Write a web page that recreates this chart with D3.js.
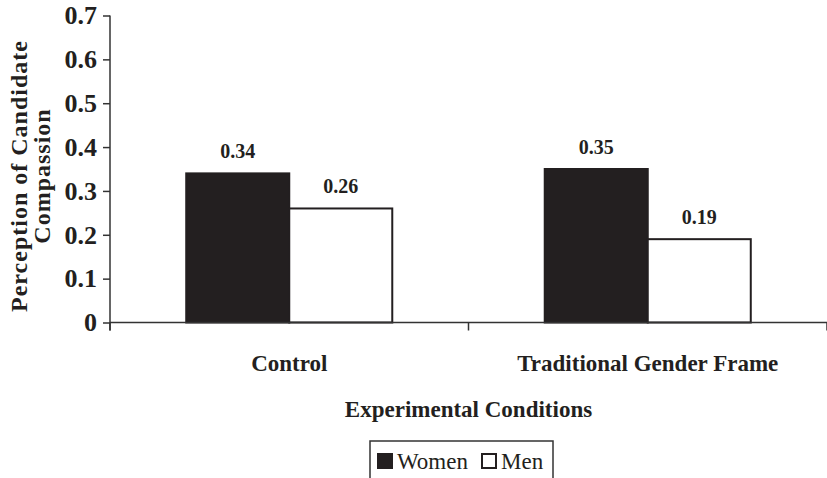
<!DOCTYPE html>
<html>
<head>
<meta charset="utf-8">
<script src="https://cdn.jsdelivr.net/npm/d3@7"></script>
<style>
  html, body { margin: 0; padding: 0; background: #fff; }
  svg { display: block; font-family: "Liberation Serif", "Times New Roman", serif; }
</style>
</head>
<body>
<svg id="chart" width="827" height="478"></svg>
<script>
// Experimental conditions and the two respondent groups
const conditions = ["Control", "Traditional Gender Frame"];
const groups = ["Women", "Men"];
const women = [0.34, 0.35];
const men = [0.26, 0.19];
const yTicks = [0, 0.1, 0.2, 0.3, 0.4, 0.5, 0.6, 0.7];

const rows = conditions.map((c, i) => ({ condition: c, Women: women[i], Men: men[i] }));

const ink = "#231f20";
const fills = { Women: ink, Men: "#ffffff" };

const svg = d3.select("#chart");
const plot = { left: 110, right: 827, top: 15.5, bottom: 322.5 };

const y = d3.scaleLinear().domain([0, 0.7]).range([plot.bottom, plot.top]);
const x0 = d3.scaleBand().domain(conditions).range([plot.left, plot.right]).padding(0);
const x1 = d3.scaleBand().domain(groups).range([0, x0.bandwidth()])
  .paddingInner(0).paddingOuter(0.74);

// Bars
const g = svg.append("g");
const groupSel = g.selectAll("g.cond").data(rows).join("g")
  .attr("class", "cond")
  .attr("transform", d => `translate(${x0(d.condition)},0)`);

groupSel.selectAll("rect").data(d => groups.map(k => ({ key: k, value: d[k] }))).join("rect")
  .attr("x", d => x1(d.key))
  .attr("y", d => y(d.value))
  .attr("width", x1.bandwidth())
  .attr("height", d => y(0) - y(d.value))
  .attr("fill", d => fills[d.key])
  .attr("stroke", ink)
  .attr("stroke-width", 2);

// Value labels above bars
groupSel.selectAll("text.val").data(d => groups.map(k => ({ key: k, value: d[k] }))).join("text")
  .attr("class", "val")
  .attr("x", d => x1(d.key) + x1.bandwidth() / 2)
  .attr("y", d => y(d.value) - 15)
  .attr("text-anchor", "middle")
  .attr("font-weight", "bold")
  .attr("font-size", 20)
  .attr("fill", ink)
  .text(d => d3.format(".2f")(d.value));

// Y axis
const yAxis = svg.append("g")
  .attr("transform", `translate(${plot.left},0)`)
  .call(d3.axisLeft(y).tickValues(yTicks).tickSize(7).tickPadding(6)
    .tickFormat(d => d === 0 ? "0" : d3.format(".1f")(d)));
yAxis.select(".domain").attr("d", `M0,${plot.top}V${plot.bottom + 8}`);
yAxis.selectAll("line, .domain").attr("stroke", "#333").attr("stroke-width", 1.5);
yAxis.selectAll("text")
  .attr("font-family", "'Liberation Serif', 'Times New Roman', serif")
  .attr("font-weight", "bold")
  .attr("font-size", 26)
  .attr("fill", ink);

// X axis: baseline with boundary ticks between categories
const bounds = [plot.left, x0(conditions[1]), plot.right];
const xAxis = svg.append("g");
xAxis.append("line")
  .attr("x1", plot.left).attr("x2", plot.right)
  .attr("y1", y(0)).attr("y2", y(0))
  .attr("stroke", "#333").attr("stroke-width", 1.5);
xAxis.selectAll("line.b").data(bounds).join("line")
  .attr("class", "b")
  .attr("x1", d => d).attr("x2", d => d)
  .attr("y1", y(0)).attr("y2", y(0) + 8)
  .attr("stroke", "#333").attr("stroke-width", 1.5);
xAxis.selectAll("text").data(conditions).join("text")
  .attr("x", d => x0(d) + x0.bandwidth() / 2)
  .attr("y", 371)
  .attr("text-anchor", "middle")
  .attr("font-weight", "bold")
  .attr("font-size", 23)
  .attr("fill", ink)
  .text(d => d);

// Axis titles
svg.append("text")
  .attr("x", (plot.left + plot.right) / 2)
  .attr("y", 417)
  .attr("text-anchor", "middle")
  .attr("font-weight", "bold")
  .attr("font-size", 23)
  .attr("fill", ink)
  .text("Experimental Conditions");

const yTitle = svg.append("text")
  .attr("transform", "translate(27,176) rotate(-90)")
  .attr("text-anchor", "middle")
  .attr("font-weight", "bold")
  .attr("font-size", 24)
  .attr("letter-spacing", 1)
  .attr("fill", ink);
yTitle.append("tspan").attr("x", 0).attr("dy", 0).text("Perception of Candidate");
yTitle.append("tspan").attr("x", 0).attr("dy", 23).text("Compassion");

// Legend
const legend = svg.append("g").attr("transform", "translate(370,441)");
legend.append("rect")
  .attr("x", 0).attr("y", 0).attr("width", 183).attr("height", 60)
  .attr("fill", "#fff").attr("stroke", "#333").attr("stroke-width", 1.5);
const legendX = { Women: 8, Men: 112 };
groups.forEach(k => {
  legend.append("rect")
    .attr("x", legendX[k]).attr("y", 13)
    .attr("width", 14).attr("height", 14)
    .attr("fill", fills[k]).attr("stroke", ink).attr("stroke-width", 2);
  legend.append("text")
    .attr("x", legendX[k] + 19).attr("y", 28)
    .attr("font-size", 23)
    .attr("fill", ink)
    .text(k);
});
</script>
</body>
</html>
